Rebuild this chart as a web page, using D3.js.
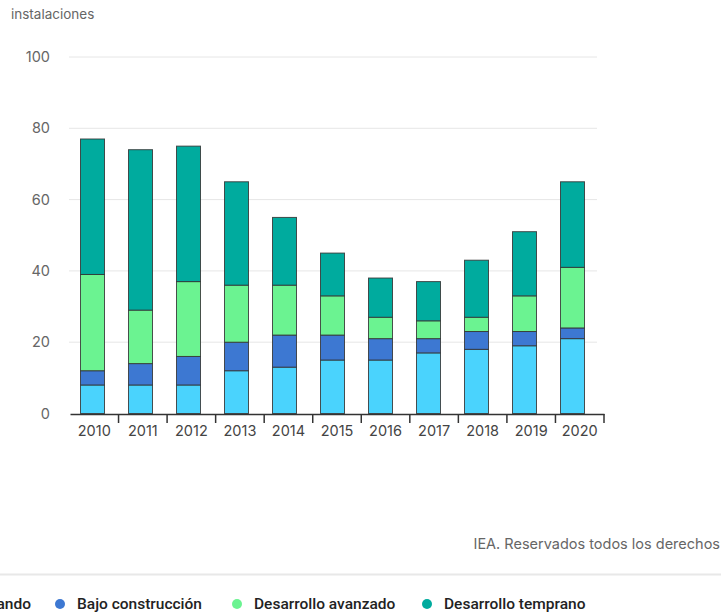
<!DOCTYPE html>
<html>
<head>
<meta charset="utf-8">
<script src="https://cdn.jsdelivr.net/npm/d3@7"></script>
<style>
  html, body { margin: 0; padding: 0; background: #fff; overflow: hidden; }
  svg { display: block; }
</style>
</head>
<body>
<svg id="chart" width="721" height="614"></svg>
<script>
// Instalaciones por año y estado de desarrollo
const years = ["2010", "2011", "2012", "2013", "2014", "2015", "2016", "2017", "2018", "2019", "2020"];
const operando          = [8, 8, 8, 12, 13, 15, 15, 17, 18, 19, 21];
const bajoConstruccion  = [4, 6, 8, 8, 9, 7, 6, 4, 5, 4, 3];
const desarrolloAvanzado = [27, 15, 21, 16, 14, 11, 6, 5, 4, 10, 17];
const desarrolloTemprano = [38, 45, 38, 29, 19, 12, 11, 11, 16, 18, 24];

const seriesNames = ["Operando", "Bajo construcción", "Desarrollo avanzado", "Desarrollo temprano"];
const seriesColors = ["#4ad3fd", "#3d78d2", "#6bf391", "#00ab9e"];
const yTicks = [0, 20, 40, 60, 80, 100];

const rows = years.map((y, i) => ({
  year: y,
  "Operando": operando[i],
  "Bajo construcción": bajoConstruccion[i],
  "Desarrollo avanzado": desarrolloAvanzado[i],
  "Desarrollo temprano": desarrolloTemprano[i]
}));

const svg = d3.select("#chart");
const font = "Inter, 'Noto Sans', sans-serif";

const y = d3.scaleLinear().domain([0, 100]).range([413.5, 57]);
const xAxisScale = d3.scaleBand().domain(years).range([70, 604]).padding(0);
const xBars = d3.scaleBand().domain(years).range([68.5, 596.5]).paddingInner(0.5).paddingOuter(0.25);

// Unit label
svg.append("text")
  .attr("x", 11).attr("y", 19)
  .attr("font-family", font).attr("font-size", 13.5)
  .attr("fill", "#666")
  .text("instalaciones");

// Gridlines and y labels
const gy = svg.append("g");
gy.selectAll("line").data(yTicks.filter(d => d > 0)).join("line")
  .attr("x1", 69).attr("x2", 597)
  .attr("y1", d => y(d)).attr("y2", d => y(d))
  .attr("stroke", "#e6e6e6").attr("stroke-width", 1);
gy.selectAll("text").data(yTicks).join("text")
  .attr("x", 50).attr("y", d => y(d) + 5)
  .attr("text-anchor", "end")
  .attr("font-family", font).attr("font-size", 14.5)
  .attr("fill", "#666")
  .text(d => d);

// Stacked bars
const stack = d3.stack().keys(seriesNames)(rows);
svg.append("g").selectAll("g").data(stack).join("g")
  .attr("fill", (d, i) => seriesColors[i])
  .selectAll("rect").data(d => d).join("rect")
  .attr("x", d => xBars(d.data.year))
  .attr("width", xBars.bandwidth())
  .attr("y", d => y(d[1]))
  .attr("height", d => y(d[0]) - y(d[1]))
  .attr("stroke", "#333")
  .attr("stroke-opacity", 0.85)
  .attr("stroke-width", 1);

// X axis
const xAxis = svg.append("g").attr("transform", "translate(0,414)")
  .call(d3.axisBottom(xAxisScale).tickSize(0).tickPadding(12));
xAxis.select(".domain").attr("stroke", "#333").attr("stroke-width", 1.5);
xAxis.selectAll("text")
  .attr("font-family", font).attr("font-size", 14.5).attr("fill", "#444");
xAxis.selectAll("line.sep").data(years).join("line")
  .attr("class", "sep")
  .attr("x1", d => xAxisScale(d) + xAxisScale.bandwidth())
  .attr("x2", d => xAxisScale(d) + xAxisScale.bandwidth())
  .attr("y1", 0).attr("y2", 9)
  .attr("stroke", "#333").attr("stroke-width", 1.5);

// Source note
svg.append("text")
  .attr("x", 720).attr("y", 549)
  .attr("text-anchor", "end")
  .attr("font-family", font).attr("font-size", 14.5)
  .attr("fill", "#666")
  .text("IEA. Reservados todos los derechos");

// Separator above legend
svg.append("line")
  .attr("x1", 0).attr("x2", 721).attr("y1", 574.5).attr("y2", 574.5)
  .attr("stroke", "#e8e8e8").attr("stroke-width", 2);

// Legend (scrolled strip: first entry runs off the left edge)
const legendX = [-62, 60, 237, 427];
const legend = svg.append("g").selectAll("g").data(seriesNames).join("g")
  .attr("transform", (d, i) => `translate(${legendX[i]},604)`);
legend.append("circle")
  .attr("r", 5)
  .attr("fill", (d, i) => seriesColors[i]);
legend.append("text")
  .attr("x", 17).attr("y", 5)
  .attr("font-family", "Roboto, 'Noto Sans', sans-serif")
  .attr("font-size", 15.5).attr("font-weight", 500)
  .attr("fill", "#222")
  .text(d => d);
// keep the first entry's text ending where the strip shows it
legend.filter((d, i) => i === 0).select("text")
  .attr("text-anchor", "end")
  .attr("x", function () { return 31 - legendX[0]; });
legend.filter((d, i) => i === 0).select("circle")
  .attr("cx", function () {
    const w = this.parentNode.querySelector("text").getComputedTextLength();
    return 31 - legendX[0] - w - 17;
  });
</script>
</body>
</html>
